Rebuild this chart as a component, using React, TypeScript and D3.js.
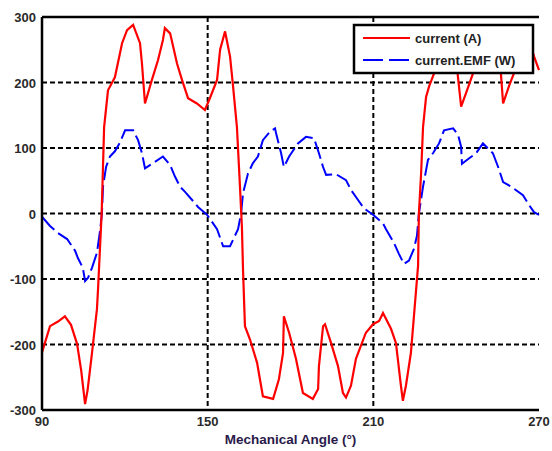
import React, { useEffect, useRef } from 'react';
import * as d3 from 'd3';

// mechanical angle (deg) and readings for the red trace
const currentAngle = [
  90.0, 92.9, 95.8, 98.3, 100.5, 102.7, 104.2, 105.6, 106.5, 108.1, 109.9, 110.3, 111.6, 112.5, 113.9,
  116.4, 119.0, 120.8, 123.0, 125.5, 126.2, 127.3, 129.8, 132.0, 133.8, 134.5, 136.4, 138.9, 140.7,
  142.9, 146.1, 149.0, 150.8, 153.4, 154.5, 156.3, 158.1, 159.2, 160.6, 161.7, 162.4, 162.8, 163.5,
  165.3, 167.9, 170.0, 173.7, 175.8, 177.3, 177.6, 179.5, 182.0, 184.5, 188.1, 190.0, 190.3, 191.8,
  192.5, 194.7, 197.2, 199.0, 200.1, 201.9, 203.7, 207.3, 209.9, 212.1, 213.5, 216.4, 218.2, 220.0,
  220.7, 221.8, 223.6, 224.7, 226.2, 226.5, 227.3, 228.0, 229.1, 230.2, 232.0, 234.1, 237.0, 239.6,
  241.8, 243.6, 246.1, 248.6, 251.5, 254.1, 256.2, 257.0, 259.1, 260.9, 263.8, 266.7, 268.2, 270.0
];
const currentA = [
  -212, -172, -165, -157, -170, -199, -240, -291, -270, -213, -146, -115, 0, 132, 188,
  208, 260, 280, 288, 260, 229, 168, 204, 234, 265, 283, 275, 229, 204,
  176, 168, 158, 176, 204, 250, 278, 240, 194, 132, 41, -20, -85, -172,
  -192, -228, -279, -283, -253, -213, -157, -182, -222, -274, -283, -268, -233, -172,
  -169, -198, -233, -274, -281, -263, -222, -182, -169, -164, -152, -176, -198, -263,
  -286, -263, -213, -157, -80, 0, 61, 132, 178, 194, 214, 240, 270, 250,
  163, 184, 214, 250, 275, 255, 214, 168, 194, 214, 245, 260, 240, 219
];

// blue dashed trace
const emfAngle = [
  90.0, 92.9, 95.8, 99.1, 102.0, 103.0, 104.8, 105.6, 106.7, 108.1, 109.9, 111.0, 111.7, 112.1, 113.2,
  114.6, 116.4, 118.2, 120.1, 123.0, 124.8, 126.2, 127.3, 130.2, 133.8, 136.4, 138.2, 140.0, 141.8,
  144.3, 146.5, 149.8, 153.4, 155.6, 158.1, 161.0, 162.1, 162.8, 164.6, 166.4, 168.2, 170.0, 172.6,
  174.4, 174.8, 176.6, 177.6, 179.5, 182.7, 185.6, 188.5, 190.3, 191.8, 192.9, 196.5, 200.1, 201.9,
  204.4, 206.6, 209.9, 213.5, 214.6, 217.5, 219.3, 221.1, 222.9, 224.7, 225.8, 226.5, 228.0, 229.8,
  231.6, 233.8, 235.6, 238.9, 240.7, 241.8, 242.1, 244.6, 247.2, 249.7, 253.3, 255.2, 257.0, 259.9,
  264.2, 266.4, 268.2, 270.0
];
const emfW = [
  -5, -19, -30, -39, -57, -68, -83, -103, -98, -83, -60, -27, 0, 41, 71,
  87, 95, 108, 127, 127, 112, 92, 69, 77, 87, 74, 56, 41, 33,
  21, 10, -2, -24, -50, -50, -24, 0, 31, 61, 77, 87, 112, 125,
  130, 122, 92, 71, 87, 107, 117, 115, 92, 71, 59, 60, 51, 36,
  21, 8, -2, -15, -24, -45, -62, -77, -72, -54, -34, 0, 41, 82,
  92, 107, 127, 130, 120, 102, 76, 84, 92, 107, 92, 71, 48, 41,
  28, 13, 2, -2
];

const xTicks = [90, 150, 210, 270];
const yTicks = [-300, -200, -100, 0, 100, 200, 300];
const seriesNames = ['current (A)', 'current.EMF (W)'];

export default function App() {
  const ref = useRef<SVGSVGElement>(null);

  useEffect(() => {
    const width = 552, height = 451;
    const left = 42, right = 539, top = 17, bottom = 410;
    const svg = d3.select(ref.current);
    svg.selectAll('*').remove();

    const x = d3.scaleLinear().domain([90, 270]).range([left, right]);
    const y = d3.scaleLinear().domain([-300, 300]).range([bottom, top]);
    const font = 'Arial, "Liberation Sans", sans-serif';

    svg.append('rect').attr('width', width).attr('height', height).attr('fill', '#fff');

    // grid (dash-dot style)
    const grid = svg.append('g').attr('stroke', '#000').attr('stroke-width', 2).attr('stroke-dasharray', '5,3');
    grid.selectAll('line.h')
      .data(yTicks.filter(d => d > -300 && d < 300))
      .enter().append('line')
      .attr('x1', left).attr('x2', right)
      .attr('y1', d => y(d)).attr('y2', d => y(d));
    grid.selectAll('line.v')
      .data(xTicks.filter(d => d > 90 && d < 270))
      .enter().append('line')
      .attr('x1', d => x(d)).attr('x2', d => x(d))
      .attr('y1', top).attr('y2', bottom);

    const line = d3.line<[number, number]>().x(d => x(d[0])).y(d => y(d[1]));

    svg.append('path')
      .datum(emfAngle.map((a, i) => [a, emfW[i]] as [number, number]))
      .attr('d', line)
      .attr('fill', 'none')
      .attr('stroke', '#0000ff')
      .attr('stroke-width', 2)
      .attr('stroke-dasharray', '18,5');

    svg.append('path')
      .datum(currentAngle.map((a, i) => [a, currentA[i]] as [number, number]))
      .attr('d', line)
      .attr('fill', 'none')
      .attr('stroke', '#ff0000')
      .attr('stroke-width', 2.2);

    // axes frame: left, bottom, top
    const frame = svg.append('g').attr('stroke', '#000').attr('stroke-width', 2.5);
    frame.append('line').attr('x1', left).attr('x2', left).attr('y1', top).attr('y2', bottom);
    frame.append('line').attr('x1', left).attr('x2', right).attr('y1', bottom).attr('y2', bottom);
    frame.append('line').attr('x1', left).attr('x2', right).attr('y1', top).attr('y2', top);

    svg.selectAll('text.y')
      .data(yTicks)
      .enter().append('text')
      .text(d => d)
      .attr('x', left - 6)
      .attr('y', d => y(d) + 5)
      .attr('text-anchor', 'end')
      .attr('font-family', font)
      .attr('font-size', 13)
      .attr('font-weight', 'bold')
      .attr('fill', '#2a2a2a');

    svg.selectAll('text.x')
      .data(xTicks)
      .enter().append('text')
      .text(d => d)
      .attr('x', d => x(d))
      .attr('y', bottom + 16)
      .attr('text-anchor', 'middle')
      .attr('font-family', font)
      .attr('font-size', 13)
      .attr('font-weight', 'bold')
      .attr('fill', '#2a2a2a');

    svg.append('text')
      .text('Mechanical Angle (°)')
      .attr('x', (left + right) / 2)
      .attr('y', 444)
      .attr('text-anchor', 'middle')
      .attr('font-family', font)
      .attr('font-size', 13.5)
      .attr('font-weight', 'bold')
      .attr('fill', '#2a1a4a');

    // legend
    const lg = svg.append('g');
    lg.append('rect')
      .attr('x', 354).attr('y', 25).attr('width', 179).attr('height', 48)
      .attr('fill', '#fff').attr('stroke', '#000').attr('stroke-width', 2.5);
    const colors = ['#ff0000', '#0000ff'];
    const dashes = [null, '20,6'];
    seriesNames.forEach((name, i) => {
      const yy = 38 + i * 22;
      lg.append('line')
        .attr('x1', 363).attr('x2', 410).attr('y1', yy).attr('y2', yy)
        .attr('stroke', colors[i]).attr('stroke-width', 2.2)
        .attr('stroke-dasharray', dashes[i]);
      lg.append('text')
        .text(name)
        .attr('x', 415).attr('y', yy + 5)
        .attr('font-family', font)
        .attr('font-size', 13)
        .attr('font-weight', 'bold')
        .attr('fill', '#222');
    });
  }, []);

  return (
    <svg ref={ref} width={552} height={451} style={{ position: 'absolute', left: 0, top: 0 }} />
  );
}
